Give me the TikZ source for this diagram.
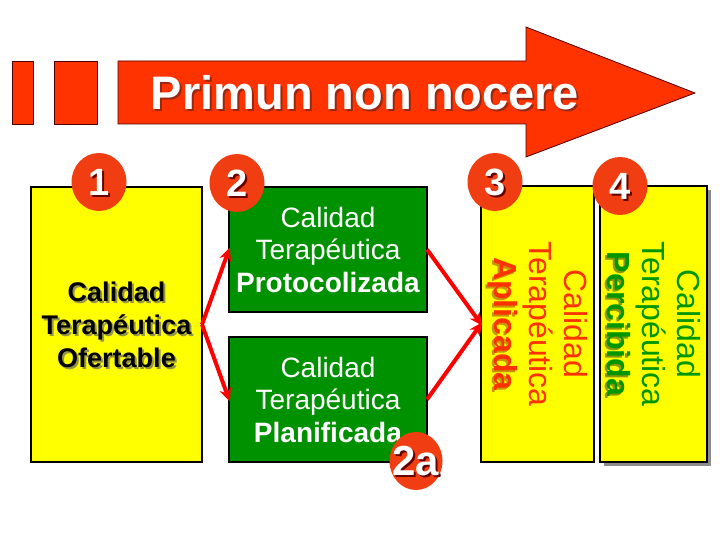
\documentclass[tikz,border=0pt]{standalone}
\usepackage{fontspec}
\setmainfont{Liberation Sans}
\usetikzlibrary{arrows.meta,shapes.geometric}
\definecolor{ored}{RGB}{255,51,0}
\definecolor{cred}{RGB}{240,62,18}
\definecolor{dgreen}{RGB}{0,145,0}
\definecolor{yel}{RGB}{255,255,0}
\definecolor{tshadow}{RGB}{150,40,20}
\definecolor{yshadow}{RGB}{150,150,70}
\definecolor{gshadow}{RGB}{200,150,0}
\definecolor{pshadow}{RGB}{140,150,0}
\definecolor{gtext}{RGB}{0,150,0}
\tikzset{
  arrowshape/.style={fill=ored,draw=black!70!red,line width=0.8pt},
  ybox/.style={draw=black,fill=yel,line width=1.2pt,inner sep=0pt,outer sep=0pt,anchor=north west},
  gbox/.style={draw=black,fill=dgreen,line width=1.2pt,inner sep=0pt,outer sep=0pt,anchor=north west},
  numc/.style={ellipse,fill=cred,minimum width=55pt,minimum height=58pt,inner sep=0pt},
  numt/.style={text=white,font=\fontsize{38}{40}\selectfont\bfseries,inner sep=0pt},
  numsh/.style={text=black!60!red,font=\fontsize{38}{40}\selectfont\bfseries,inner sep=0pt},
  rarrow/.style={draw=red,line width=4pt,-{Stealth[length=13pt,width=12pt]},shorten >=-2pt},
  gtxt/.style={text=white,font=\fontsize{28}{32.5}\selectfont,align=center,inner sep=0pt},
  vtxt/.style={rotate=-90,font=\fontsize{32}{35}\selectfont,align=center,inner sep=0pt}
}
\begin{document}
\begin{tikzpicture}[x=1pt,y=-1pt]
\useasboundingbox (0,0) rectangle (720,540);
\fill[white] (0,0) rectangle (720,540);
% title arrow
\draw[arrowshape] (12,61) rectangle (33,124);
\draw[arrowshape] (54,61) rectangle (97,124);
\draw[arrowshape] (118,61) -- (526,61) -- (526,27) -- (695,93) -- (526,157) -- (526,124) -- (118,124) -- cycle;
\node[anchor=base,text=tshadow,font=\fontsize{47}{50}\selectfont\bfseries,inner sep=0pt] (titlesh) at (367,112) {Primun non nocere};
\node[anchor=base,text=white,font=\fontsize{47}{50}\selectfont\bfseries,inner sep=0pt] (title) at (365,110) {Primun non nocere};
% boxes
\node[ybox,minimum width=171pt,minimum height=275pt] (b1) at (31,187) {};
\node[gbox,minimum width=198pt,minimum height=125pt] (b2) at (229,187) {};
\node[gbox,minimum width=198pt,minimum height=125pt] (b2a) at (229,337) {};
\node[ybox,minimum width=113pt,minimum height=276pt] (b3) at (481,186) {};
\fill[black!45] (604,190) rectangle (711,466);
\node[ybox,minimum width=107pt,minimum height=276pt] (b4) at (600,186) {};
% texts
\node[text=yshadow,font=\fontsize{27}{33}\selectfont\bfseries,align=center,inner sep=0pt] (t1sh) at ([shift={(2,2)}]b1.center) {Calidad\\Terapéutica\\Ofertable};
\node[text=black,font=\fontsize{27}{33}\selectfont\bfseries,align=center,inner sep=0pt] (t1) at (b1.center) {Calidad\\Terapéutica\\Ofertable};
\node[gtxt] (t2) at (b2.center) {Calidad\\Terapéutica\\\textbf{Protocolizada}};
\node[gtxt] (t2a) at (b2a.center) {Calidad\\Terapéutica\\\textbf{Planificada}};
\node[vtxt,text=gshadow] (t3sh) at ([shift={(-2,2)}]b3.center) {\phantom{Calidad}\\\phantom{Terapéutica}\\\textbf{Aplicada}};
\node[vtxt,text=ored] (t3) at (b3.center) {Calidad\\Terapéutica\\\textbf{Aplicada}};
\node[vtxt,text=pshadow] (t4sh) at ([shift={(-2,2)}]b4.center) {\phantom{Calidad}\\\phantom{Terapéutica}\\\textbf{Percibida}};
\node[vtxt,text=gtext] (t4) at (b4.center) {Calidad\\Terapéutica\\\textbf{Percibida}};
% connectors
\draw[rarrow] (b1.east) -- (b2.west);
\draw[rarrow] (b1.east) -- (b2a.west);
\draw[rarrow] (b2.east) -- (b3.west);
\draw[rarrow] (b2a.east) -- (b3.west);
% number circles
\node[numc] (c1) at (99,182) {};
\node[numsh] (n1sh) at ([shift={(2,2)}]c1.center) {1};
\node[numt] (n1) at (c1.center) {1};
\node[numc] (c2) at (237,183) {};
\node[numsh] (n2sh) at ([shift={(2,2)}]c2.center) {2};
\node[numt] (n2) at (c2.center) {2};
\node[numc] (c3) at (495,182) {};
\node[numsh] (n3sh) at ([shift={(2,2)}]c3.center) {3};
\node[numt] (n3) at (c3.center) {3};
\node[numc] (c4) at (620,186) {};
\node[numsh] (n4sh) at ([shift={(2,2)}]c4.center) {4};
\node[numt] (n4) at (c4.center) {4};
\node[numc,minimum width=53pt] (c2a) at (416,461) {};
\node[text=black!60!red,font=\fontsize{42}{44}\selectfont\bfseries,inner sep=0pt] (n2ash) at ([shift={(2,2)}]c2a.center) {2a};
\node[text=white,font=\fontsize{42}{44}\selectfont\bfseries,inner sep=0pt] (n2a) at (c2a.center) {2a};
\end{tikzpicture}
\end{document}
